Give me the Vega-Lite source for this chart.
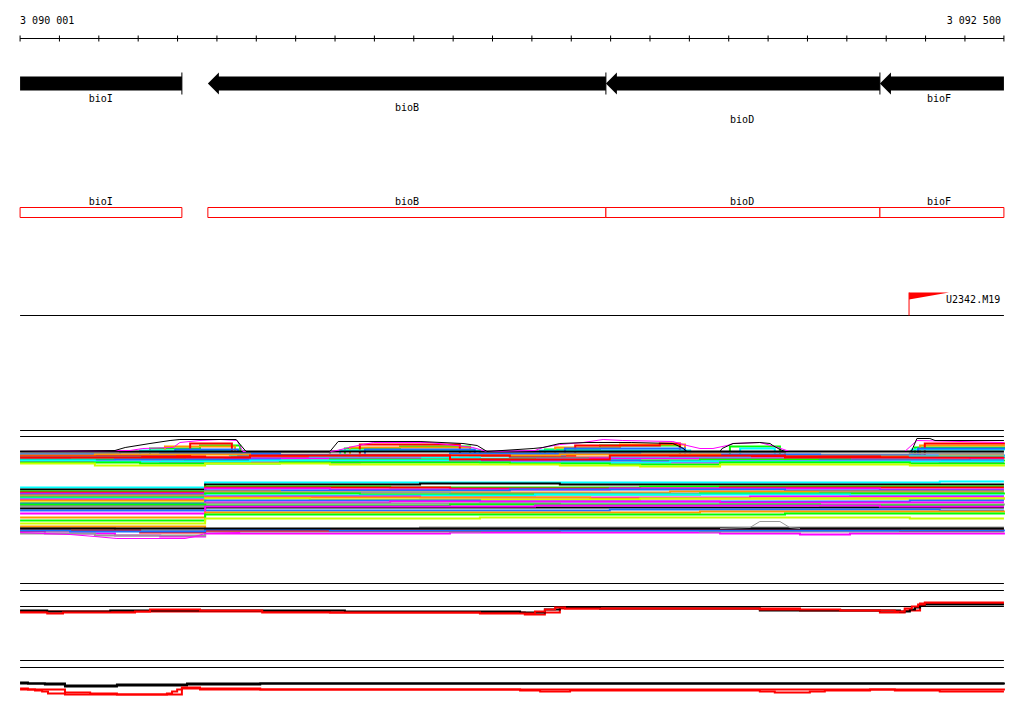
{
"$schema":"https://vega.github.io/schema/vega-lite/v6.json",
"width":1024,"height":714,"padding":0,
"autosize":{"type":"fit","contains":"padding"},
"background":"white",
"config":{"view":{"stroke":null},"text":{"font":"DejaVu Sans Mono","fontSize":10}},
"resolve":{"scale":{"color":"independent"}},
"datasets":{
"hl":[{"x":3090001,"x2":3092500,"y":38},{"x":3090001,"x2":3092500,"y":315},{"x":3090001,"x2":3092500,"y":430},{"x":3090001,"x2":3092500,"y":436},{"x":3090001,"x2":3092500,"y":583},{"x":3090001,"x2":3092500,"y":590},{"x":3090001,"x2":3092500,"y":606},{"x":3090001,"x2":3092500,"y":660},{"x":3090001,"x2":3092500,"y":667}],
"ticks":[{"x":3090001},{"x":3090101},{"x":3090201},{"x":3090301},{"x":3090401},{"x":3090501},{"x":3090601},{"x":3090701},{"x":3090801},{"x":3090901},{"x":3091001},{"x":3091101},{"x":3091201},{"x":3091301},{"x":3091401},{"x":3091501},{"x":3091601},{"x":3091701},{"x":3091801},{"x":3091901},{"x":3092001},{"x":3092101},{"x":3092201},{"x":3092301},{"x":3092401},{"x":3092500}],
"genes":[{"name":"bioI","x":3090001,"x2":3090412,"xb":3090001,"xm":3090206,"ly":101},{"name":"bioB","x":3090478,"x2":3091489,"xb":3090503,"xm":3090984,"ly":110},{"name":"bioD","x":3091489,"x2":3092185,"xb":3091514,"xm":3091835,"ly":122},{"name":"bioF","x":3092185,"x2":3092500,"xb":3092210,"xm":3092335,"ly":101}],
"markers":[{"name":"U2342.M19","x":3092259}],
"bands":[
{"s":"f1","x":3090001,"y":455},{"s":"f1","x":3090331,"y":448},{"s":"f1","x":3090458,"y":445},{"s":"f1","x":3090560,"y":455},{"s":"f1","x":3090826,"y":448},{"s":"f1","x":3090966,"y":446},{"s":"f1","x":3091144,"y":455},{"s":"f1","x":3091334,"y":449},{"s":"f1","x":3091474,"y":445},{"s":"f1","x":3091677,"y":455},{"s":"f1","x":3091804,"y":446},{"s":"f1","x":3091931,"y":455},{"s":"f1","x":3092274,"y":447},{"s":"f1","x":3092500,"y":448},
{"s":"f2","x":3090001,"y":455},{"s":"f2","x":3090369,"y":446},{"s":"f2","x":3090547,"y":455},{"s":"f2","x":3090839,"y":447},{"s":"f2","x":3091144,"y":455},{"s":"f2","x":3091360,"y":447},{"s":"f2","x":3091525,"y":444},{"s":"f2","x":3091690,"y":455},{"s":"f2","x":3092287,"y":445},{"s":"f2","x":3092500,"y":446},
{"s":"f3","x":3090001,"y":455},{"s":"f3","x":3090433,"y":443},{"s":"f3","x":3090539,"y":455},{"s":"f3","x":3090864,"y":444},{"s":"f3","x":3091118,"y":455},{"s":"f3","x":3091411,"y":445},{"s":"f3","x":3091626,"y":443},{"s":"f3","x":3091677,"y":455},{"s":"f3","x":3092299,"y":443},{"s":"f3","x":3092500,"y":444},
{"s":"f4","x":3090001,"y":455},{"s":"f4","x":3090306,"y":450},{"s":"f4","x":3090534,"y":455},{"s":"f4","x":3090814,"y":450},{"s":"f4","x":3091169,"y":455},{"s":"f4","x":3091322,"y":450},{"s":"f4","x":3091703,"y":455},{"s":"f4","x":3091830,"y":448},{"s":"f4","x":3091918,"y":455},{"s":"f4","x":3092266,"y":449},{"s":"f4","x":3092500,"y":450},
{"s":"f5","x":3090001,"y":455},{"s":"f5","x":3090395,"y":449},{"s":"f5","x":3090555,"y":455},{"s":"f5","x":3090877,"y":449},{"s":"f5","x":3091156,"y":455},{"s":"f5","x":3091385,"y":448},{"s":"f5","x":3091690,"y":455},{"s":"f5","x":3092282,"y":448},{"s":"f5","x":3092500,"y":449},
{"s":"s02","x":3090001,"y":453},{"s":"s02","x":3090255,"y":452},{"s":"s02","x":3090788,"y":454},{"s":"s02","x":3091169,"y":453},{"s":"s02","x":3091499,"y":452},{"s":"s02","x":3091944,"y":454},{"s":"s02","x":3092261,"y":453},{"s":"s02","x":3092500,"y":453},
{"s":"s03","x":3090001,"y":454},{"s":"s03","x":3090357,"y":453},{"s":"s03","x":3090661,"y":455},{"s":"s03","x":3091093,"y":453},{"s":"s03","x":3091576,"y":454},{"s":"s03","x":3092033,"y":455},{"s":"s03","x":3092500,"y":454},
{"s":"s04","x":3090001,"y":455},{"s":"s04","x":3090191,"y":454},{"s":"s04","x":3090585,"y":456},{"s":"s04","x":3090941,"y":455},{"s":"s04","x":3091372,"y":454},{"s":"s04","x":3091779,"y":456},{"s":"s04","x":3092337,"y":455},{"s":"s04","x":3092500,"y":455},
{"s":"s05","x":3090001,"y":456},{"s":"s05","x":3090471,"y":457},{"s":"s05","x":3090864,"y":455},{"s":"s05","x":3091245,"y":457},{"s":"s05","x":3091652,"y":456},{"s":"s05","x":3092185,"y":457},{"s":"s05","x":3092500,"y":456},
{"s":"s06","x":3090001,"y":457},{"s":"s06","x":3090306,"y":458},{"s":"s06","x":3090737,"y":457},{"s":"s06","x":3091169,"y":458},{"s":"s06","x":3091499,"y":457},{"s":"s06","x":3091855,"y":458},{"s":"s06","x":3092261,"y":456},{"s":"s06","x":3092500,"y":457},
{"s":"s07","x":3090001,"y":458},{"s":"s07","x":3090128,"y":459},{"s":"s07","x":3090522,"y":458},{"s":"s07","x":3091017,"y":459},{"s":"s07","x":3091449,"y":458},{"s":"s07","x":3091944,"y":459},{"s":"s07","x":3092414,"y":458},{"s":"s07","x":3092500,"y":458},
{"s":"s08","x":3090001,"y":459},{"s":"s08","x":3090420,"y":460},{"s":"s08","x":3090788,"y":459},{"s":"s08","x":3091309,"y":460},{"s":"s08","x":3091728,"y":459},{"s":"s08","x":3092109,"y":460},{"s":"s08","x":3092500,"y":459},
{"s":"s09","x":3090001,"y":460},{"s":"s09","x":3090242,"y":459},{"s":"s09","x":3090661,"y":461},{"s":"s09","x":3091093,"y":460},{"s":"s09","x":3091576,"y":461},{"s":"s09","x":3092033,"y":460},{"s":"s09","x":3092500,"y":460},
{"s":"s10","x":3090001,"y":461},{"s":"s10","x":3090357,"y":462},{"s":"s10","x":3090864,"y":461},{"s":"s10","x":3091372,"y":462},{"s":"s10","x":3091779,"y":461},{"s":"s10","x":3092337,"y":462},{"s":"s10","x":3092500,"y":462},
{"s":"s11","x":3090001,"y":460},{"s":"s11","x":3090191,"y":461},{"s":"s11","x":3090585,"y":460},{"s":"s11","x":3091169,"y":462},{"s":"s11","x":3091652,"y":461},{"s":"s11","x":3092500,"y":461},
{"s":"s12","x":3090001,"y":462},{"s":"s12","x":3090306,"y":463},{"s":"s12","x":3090661,"y":462},{"s":"s12","x":3091245,"y":463},{"s":"s12","x":3091499,"y":464},{"s":"s12","x":3091779,"y":462},{"s":"s12","x":3092261,"y":463},{"s":"s12","x":3092500,"y":464},
{"s":"s13","x":3090001,"y":463},{"s":"s13","x":3090191,"y":465},{"s":"s13","x":3090471,"y":463},{"s":"s13","x":3090788,"y":464},{"s":"s13","x":3091372,"y":465},{"s":"s13","x":3091576,"y":466},{"s":"s13","x":3091779,"y":464},{"s":"s13","x":3092261,"y":465},{"s":"s13","x":3092500,"y":466},
{"s":"s14","x":3090001,"y":457},{"s":"s14","x":3090585,"y":455},{"s":"s14","x":3091093,"y":459},{"s":"s14","x":3091499,"y":455},{"s":"s14","x":3091944,"y":457},{"s":"s14","x":3092500,"y":457},
{"s":"s01","x":3090001,"y":451},{"s":"s01","x":3092500,"y":451},
{"s":"t01","x":3090001,"y":487},{"s":"t01","x":3090471,"y":482},{"s":"t01","x":3092337,"y":481},{"s":"t01","x":3092500,"y":481},
{"s":"t02","x":3090001,"y":489},{"s":"t02","x":3090471,"y":484},{"s":"t02","x":3091017,"y":483},{"s":"t02","x":3091372,"y":484},{"s":"t02","x":3092500,"y":484},
{"s":"t03","x":3090001,"y":491},{"s":"t03","x":3090471,"y":486},{"s":"t03","x":3090941,"y":487},{"s":"t03","x":3091576,"y":486},{"s":"t03","x":3092500,"y":486},
{"s":"t04","x":3090001,"y":492},{"s":"t04","x":3090471,"y":487},{"s":"t04","x":3091093,"y":488},{"s":"t04","x":3091779,"y":487},{"s":"t04","x":3092500,"y":487},
{"s":"t05","x":3090001,"y":493},{"s":"t05","x":3090471,"y":488},{"s":"t05","x":3090788,"y":489},{"s":"t05","x":3091499,"y":488},{"s":"t05","x":3092185,"y":489},{"s":"t05","x":3092500,"y":489},
{"s":"t06","x":3090001,"y":494},{"s":"t06","x":3090471,"y":490},{"s":"t06","x":3091245,"y":489},{"s":"t06","x":3091944,"y":490},{"s":"t06","x":3092500,"y":490},
{"s":"t07","x":3090001,"y":495},{"s":"t07","x":3090471,"y":491},{"s":"t07","x":3090661,"y":492},{"s":"t07","x":3091652,"y":491},{"s":"t07","x":3092500,"y":491},
{"s":"t08","x":3090001,"y":496},{"s":"t08","x":3090471,"y":492},{"s":"t08","x":3091093,"y":493},{"s":"t08","x":3092033,"y":492},{"s":"t08","x":3092500,"y":492},
{"s":"t09","x":3090001,"y":497},{"s":"t09","x":3090471,"y":493},{"s":"t09","x":3090864,"y":494},{"s":"t09","x":3091728,"y":493},{"s":"t09","x":3092500,"y":494},
{"s":"t10","x":3090001,"y":498},{"s":"t10","x":3090471,"y":495},{"s":"t10","x":3091309,"y":494},{"s":"t10","x":3092109,"y":495},{"s":"t10","x":3092500,"y":495},
{"s":"t11","x":3090001,"y":499},{"s":"t11","x":3090471,"y":496},{"s":"t11","x":3091017,"y":497},{"s":"t11","x":3091855,"y":496},{"s":"t11","x":3092500,"y":496},
{"s":"t12","x":3090001,"y":500},{"s":"t12","x":3090471,"y":497},{"s":"t12","x":3091449,"y":498},{"s":"t12","x":3092500,"y":497},
{"s":"t13","x":3090001,"y":502},{"s":"t13","x":3090471,"y":498},{"s":"t13","x":3090737,"y":499},{"s":"t13","x":3091576,"y":498},{"s":"t13","x":3092500,"y":499},
{"s":"t14","x":3090001,"y":503},{"s":"t14","x":3090471,"y":500},{"s":"t14","x":3091169,"y":501},{"s":"t14","x":3092261,"y":500},{"s":"t14","x":3092500,"y":500},
{"s":"t15","x":3090001,"y":505},{"s":"t15","x":3090471,"y":502},{"s":"t15","x":3090941,"y":501},{"s":"t15","x":3091779,"y":502},{"s":"t15","x":3092500,"y":502},
{"s":"t16","x":3090001,"y":506},{"s":"t16","x":3090471,"y":503},{"s":"t16","x":3091372,"y":504},{"s":"t16","x":3092500,"y":503},
{"s":"t17","x":3090001,"y":504},{"s":"t17","x":3090471,"y":505},{"s":"t17","x":3091093,"y":504},{"s":"t17","x":3092033,"y":505},{"s":"t17","x":3092500,"y":505},
{"s":"t18","x":3090001,"y":508},{"s":"t18","x":3090471,"y":507},{"s":"t18","x":3092500,"y":507},
{"s":"t19","x":3090001,"y":510},{"s":"t19","x":3091499,"y":509},{"s":"t19","x":3092337,"y":510},{"s":"t19","x":3092500,"y":510},
{"s":"t20","x":3090001,"y":513},{"s":"t20","x":3090471,"y":506},{"s":"t20","x":3091309,"y":505},{"s":"t20","x":3092185,"y":506},{"s":"t20","x":3092500,"y":506},
{"s":"t21","x":3090001,"y":517},{"s":"t21","x":3090471,"y":512},{"s":"t21","x":3091728,"y":511},{"s":"t21","x":3092500,"y":512},
{"s":"t22","x":3090001,"y":520},{"s":"t22","x":3090471,"y":514},{"s":"t22","x":3091944,"y":513},{"s":"t22","x":3092500,"y":514},
{"s":"t23","x":3090001,"y":523},{"s":"t23","x":3090471,"y":518},{"s":"t23","x":3091169,"y":517},{"s":"t23","x":3092261,"y":518},{"s":"t23","x":3092500,"y":518},
{"s":"u02","x":3090001,"y":527},{"s":"u02","x":3090242,"y":530},{"s":"u02","x":3090471,"y":529},{"s":"u02","x":3091017,"y":527},{"s":"u02","x":3092500,"y":527},
{"s":"u03","x":3090001,"y":531},{"s":"u03","x":3090064,"y":533},{"s":"u03","x":3090242,"y":535},{"s":"u03","x":3090357,"y":536},{"s":"u03","x":3090471,"y":533},{"s":"u03","x":3091093,"y":532},{"s":"u03","x":3091779,"y":533},{"s":"u03","x":3091982,"y":534},{"s":"u03","x":3092109,"y":533},{"s":"u03","x":3092500,"y":532},
{"s":"u05","x":3090001,"y":526},{"s":"u05","x":3090471,"y":529},{"s":"u05","x":3092500,"y":529},
{"s":"u06","x":3090001,"y":533},{"s":"u06","x":3090191,"y":535},{"s":"u06","x":3090471,"y":531},{"s":"u06","x":3091169,"y":530},{"s":"u06","x":3091728,"y":531},{"s":"u06","x":3092500,"y":531},
{"s":"u07","x":3090001,"y":530},{"s":"u07","x":3090306,"y":532},{"s":"u07","x":3090471,"y":530},{"s":"u07","x":3091372,"y":529},{"s":"u07","x":3092236,"y":530},{"s":"u07","x":3092500,"y":530},
{"s":"u08","x":3090001,"y":530},{"s":"u08","x":3090128,"y":531},{"s":"u08","x":3090471,"y":529},{"s":"u08","x":3090788,"y":530},{"s":"u08","x":3092500,"y":529},
{"s":"u01","x":3090001,"y":528},{"s":"u01","x":3092500,"y":528}
],
"envs":[
{"s":"e2","x":3090001,"y":451},{"s":"e2","x":3090280,"y":450},{"s":"e2","x":3090313,"y":448},{"s":"e2","x":3090390,"y":447},{"s":"e2","x":3090407,"y":442},{"s":"e2","x":3090458,"y":440},{"s":"e2","x":3090509,"y":439},{"s":"e2","x":3090552,"y":440},{"s":"e2","x":3090567,"y":451},{"s":"e2","x":3090788,"y":451},{"s":"e2","x":3090806,"y":450},{"s":"e2","x":3090847,"y":446},{"s":"e2","x":3090898,"y":442},{"s":"e2","x":3091042,"y":442},{"s":"e2","x":3091151,"y":447},{"s":"e2","x":3091187,"y":451},{"s":"e2","x":3091309,"y":450},{"s":"e2","x":3091329,"y":447},{"s":"e2","x":3091372,"y":444},{"s":"e2","x":3091431,"y":442},{"s":"e2","x":3091482,"y":439},{"s":"e2","x":3091532,"y":440},{"s":"e2","x":3091659,"y":441},{"s":"e2","x":3091695,"y":445},{"s":"e2","x":3091728,"y":448},{"s":"e2","x":3091761,"y":448},{"s":"e2","x":3091797,"y":445},{"s":"e2","x":3091812,"y":443},{"s":"e2","x":3091880,"y":442},{"s":"e2","x":3091918,"y":446},{"s":"e2","x":3091956,"y":451},{"s":"e2","x":3092248,"y":451},{"s":"e2","x":3092279,"y":440},{"s":"e2","x":3092500,"y":442},
{"s":"e1","x":3090001,"y":451},{"s":"e1","x":3090242,"y":450},{"s":"e1","x":3090268,"y":447},{"s":"e1","x":3090331,"y":443},{"s":"e1","x":3090382,"y":440},{"s":"e1","x":3090407,"y":439},{"s":"e1","x":3090550,"y":439},{"s":"e1","x":3090560,"y":444},{"s":"e1","x":3090575,"y":451},{"s":"e1","x":3090788,"y":451},{"s":"e1","x":3090809,"y":441},{"s":"e1","x":3091017,"y":441},{"s":"e1","x":3091126,"y":443},{"s":"e1","x":3091162,"y":445},{"s":"e1","x":3091187,"y":451},{"s":"e1","x":3091304,"y":448},{"s":"e1","x":3091329,"y":447},{"s":"e1","x":3091372,"y":443},{"s":"e1","x":3091441,"y":442},{"s":"e1","x":3091555,"y":442},{"s":"e1","x":3091659,"y":443},{"s":"e1","x":3091682,"y":447},{"s":"e1","x":3091695,"y":451},{"s":"e1","x":3091779,"y":451},{"s":"e1","x":3091784,"y":448},{"s":"e1","x":3091812,"y":443},{"s":"e1","x":3091880,"y":442},{"s":"e1","x":3091906,"y":443},{"s":"e1","x":3091913,"y":445},{"s":"e1","x":3091931,"y":449},{"s":"e1","x":3091944,"y":451},{"s":"e1","x":3092261,"y":451},{"s":"e1","x":3092266,"y":450},{"s":"e1","x":3092279,"y":438},{"s":"e1","x":3092312,"y":438},{"s":"e1","x":3092325,"y":440},{"s":"e1","x":3092500,"y":440},
{"s":"e3","x":3091779,"y":528},{"s":"e3","x":3091855,"y":527},{"s":"e3","x":3091880,"y":521},{"s":"e3","x":3091931,"y":521},{"s":"e3","x":3091956,"y":527},{"s":"e3","x":3091982,"y":528},
{"s":"e4","x":3090001,"y":532},{"s":"e4","x":3090064,"y":533},{"s":"e4","x":3090128,"y":534},{"s":"e4","x":3090191,"y":536},{"s":"e4","x":3090247,"y":538},{"s":"e4","x":3090420,"y":538},{"s":"e4","x":3090445,"y":536},{"s":"e4","x":3090471,"y":533},{"s":"e4","x":3090560,"y":532}
],
"lows":[
{"s":"r2","x":3090001,"y":611},{"s":"r2","x":3090616,"y":611},{"s":"r2","x":3090788,"y":612},{"s":"r2","x":3091169,"y":612},{"s":"r2","x":3091283,"y":614},{"s":"r2","x":3091334,"y":612},{"s":"r2","x":3091372,"y":608},{"s":"r2","x":3091880,"y":608},{"s":"r2","x":3091982,"y":610},{"s":"r2","x":3092185,"y":612},{"s":"r2","x":3092248,"y":610},{"s":"r2","x":3092287,"y":603},{"s":"r2","x":3092500,"y":603},
{"s":"k1","x":3090001,"y":610},{"s":"k1","x":3090070,"y":611},{"s":"k1","x":3090230,"y":610},{"s":"k1","x":3090826,"y":611},{"s":"k1","x":3091271,"y":612},{"s":"k1","x":3091334,"y":609},{"s":"k1","x":3091372,"y":607},{"s":"k1","x":3091474,"y":608},{"s":"k1","x":3091880,"y":610},{"s":"k1","x":3092236,"y":611},{"s":"k1","x":3092261,"y":609},{"s":"k1","x":3092274,"y":607},{"s":"k1","x":3092287,"y":605},{"s":"k1","x":3092299,"y":604},{"s":"k1","x":3092500,"y":604},
{"s":"r1","x":3090001,"y":612},{"s":"r1","x":3090070,"y":613},{"s":"r1","x":3090110,"y":612},{"s":"r1","x":3090293,"y":611},{"s":"r1","x":3090331,"y":609},{"s":"r1","x":3090458,"y":610},{"s":"r1","x":3090616,"y":612},{"s":"r1","x":3091169,"y":613},{"s":"r1","x":3091309,"y":611},{"s":"r1","x":3091334,"y":609},{"s":"r1","x":3091360,"y":607},{"s":"r1","x":3091385,"y":608},{"s":"r1","x":3091880,"y":609},{"s":"r1","x":3092084,"y":610},{"s":"r1","x":3092223,"y":611},{"s":"r1","x":3092248,"y":608},{"s":"r1","x":3092266,"y":606},{"s":"r1","x":3092282,"y":604},{"s":"r1","x":3092299,"y":602},{"s":"r1","x":3092500,"y":602},
{"s":"k3","x":3090001,"y":682},{"s":"k3","x":3090021,"y":683},{"s":"k3","x":3090064,"y":684},{"s":"k3","x":3090115,"y":686},{"s":"k3","x":3090247,"y":684},{"s":"k3","x":3090425,"y":683},{"s":"k3","x":3092500,"y":683},
{"s":"k4","x":3090001,"y":683},{"s":"k4","x":3090115,"y":685},{"s":"k4","x":3090247,"y":685},{"s":"k4","x":3090425,"y":684},{"s":"k4","x":3090611,"y":683},{"s":"k4","x":3092500,"y":684},
{"s":"r4","x":3090001,"y":689},{"s":"r4","x":3090115,"y":692},{"s":"r4","x":3090179,"y":693},{"s":"r4","x":3090247,"y":694},{"s":"r4","x":3090374,"y":694},{"s":"r4","x":3090412,"y":688},{"s":"r4","x":3090458,"y":689},{"s":"r4","x":3092500,"y":690},
{"s":"r3","x":3090001,"y":688},{"s":"r3","x":3090021,"y":689},{"s":"r3","x":3090039,"y":690},{"s":"r3","x":3090057,"y":691},{"s":"r3","x":3090072,"y":693},{"s":"r3","x":3090115,"y":694},{"s":"r3","x":3090288,"y":694},{"s":"r3","x":3090374,"y":693},{"s":"r3","x":3090387,"y":691},{"s":"r3","x":3090400,"y":689},{"s":"r3","x":3090412,"y":687},{"s":"r3","x":3090458,"y":688},{"s":"r3","x":3090611,"y":689},{"s":"r3","x":3091245,"y":689},{"s":"r3","x":3091271,"y":690},{"s":"r3","x":3091322,"y":691},{"s":"r3","x":3091398,"y":690},{"s":"r3","x":3091880,"y":691},{"s":"r3","x":3091918,"y":692},{"s":"r3","x":3092007,"y":691},{"s":"r3","x":3092045,"y":690},{"s":"r3","x":3092160,"y":689},{"s":"r3","x":3092223,"y":690},{"s":"r3","x":3092337,"y":691},{"s":"r3","x":3092500,"y":691}
]
},
"layer":[
{"data":{"name":"hl"},"mark":{"type":"rule","color":"#000000","strokeWidth":1},
 "encoding":{"x":{"field":"x","type":"quantitative","scale":{"domain":[3089950,3092551],"zero":false,"nice":false},"axis":null},"x2":{"field":"x2"},
 "y":{"field":"y","type":"quantitative","scale":{"domain":[-0.5,713.5],"reverse":true,"zero":false,"nice":false},"axis":null}}},
{"data":{"name":"ticks"},"mark":{"type":"rule","color":"#000000","strokeWidth":1},
 "encoding":{"x":{"field":"x","type":"quantitative","scale":{"domain":[3089950,3092551],"zero":false,"nice":false},"axis":null},
 "y":{"datum":35,"type":"quantitative","scale":{"domain":[-0.5,713.5],"reverse":true,"zero":false,"nice":false},"axis":null},"y2":{"datum":41}}},
{"data":{"values":[{"t":"3 090 001","x":3090001}]},"mark":{"type":"text","align":"left","baseline":"alphabetic","color":"#000000"},
 "encoding":{"x":{"field":"x","type":"quantitative","scale":{"domain":[3089950,3092551],"zero":false,"nice":false},"axis":null},
 "y":{"datum":23,"type":"quantitative","scale":{"domain":[-0.5,713.5],"reverse":true,"zero":false,"nice":false},"axis":null},"text":{"field":"t"}}},
{"data":{"values":[{"t":"3 092 500","x":3092500}]},"mark":{"type":"text","align":"right","baseline":"alphabetic","dx":-3,"color":"#000000"},
 "encoding":{"x":{"field":"x","type":"quantitative","scale":{"domain":[3089950,3092551],"zero":false,"nice":false},"axis":null},
 "y":{"datum":23,"type":"quantitative","scale":{"domain":[-0.5,713.5],"reverse":true,"zero":false,"nice":false},"axis":null},"text":{"field":"t"}}},
{"data":{"name":"genes"},"mark":{"type":"rect","color":"#000000"},
 "encoding":{"x":{"field":"xb","type":"quantitative","scale":{"domain":[3089950,3092551],"zero":false,"nice":false},"axis":null},"x2":{"field":"x2"},
 "y":{"datum":76,"type":"quantitative","scale":{"domain":[-0.5,713.5],"reverse":true,"zero":false,"nice":false},"axis":null},"y2":{"datum":90}}},
{"data":{"name":"genes"},"transform":[{"filter":"datum.name !== 'bioI'"}],
 "mark":{"type":"point","shape":"M 0 0 L 1 -1 L 1 1 Z","size":484,"filled":true,"color":"#000000","opacity":1,"strokeWidth":0},
 "encoding":{"x":{"field":"x","type":"quantitative","scale":{"domain":[3089950,3092551],"zero":false,"nice":false},"axis":null},
 "y":{"datum":83,"type":"quantitative","scale":{"domain":[-0.5,713.5],"reverse":true,"zero":false,"nice":false},"axis":null}}},
{"data":{"name":"genes"},"transform":[{"filter":"datum.name !== 'bioF'"}],"mark":{"type":"rule","color":"#000000","strokeWidth":1},
 "encoding":{"x":{"field":"x2","type":"quantitative","scale":{"domain":[3089950,3092551],"zero":false,"nice":false},"axis":null},
 "y":{"datum":72,"type":"quantitative","scale":{"domain":[-0.5,713.5],"reverse":true,"zero":false,"nice":false},"axis":null},"y2":{"datum":94}}},
{"data":{"name":"genes"},"mark":{"type":"text","align":"center","baseline":"alphabetic","color":"#000000"},
 "encoding":{"x":{"field":"xm","type":"quantitative","scale":{"domain":[3089950,3092551],"zero":false,"nice":false},"axis":null},
 "y":{"field":"ly","type":"quantitative","scale":{"domain":[-0.5,713.5],"reverse":true,"zero":false,"nice":false},"axis":null},"text":{"field":"name"}}},
{"data":{"name":"genes"},"mark":{"type":"rect","fill":"#ffffff","stroke":"#ff0000","strokeWidth":1},
 "encoding":{"x":{"field":"x","type":"quantitative","scale":{"domain":[3089950,3092551],"zero":false,"nice":false},"axis":null},"x2":{"field":"x2"},
 "y":{"datum":207,"type":"quantitative","scale":{"domain":[-0.5,713.5],"reverse":true,"zero":false,"nice":false},"axis":null},"y2":{"datum":217}}},
{"data":{"name":"genes"},"mark":{"type":"text","align":"center","baseline":"alphabetic","color":"#000000"},
 "encoding":{"x":{"field":"xm","type":"quantitative","scale":{"domain":[3089950,3092551],"zero":false,"nice":false},"axis":null},
 "y":{"datum":204,"type":"quantitative","scale":{"domain":[-0.5,713.5],"reverse":true,"zero":false,"nice":false},"axis":null},"text":{"field":"name"}}},
{"data":{"name":"markers"},"mark":{"type":"rule","color":"#ff0000","strokeWidth":1},
 "encoding":{"x":{"field":"x","type":"quantitative","scale":{"domain":[3089950,3092551],"zero":false,"nice":false},"axis":null},
 "y":{"datum":292,"type":"quantitative","scale":{"domain":[-0.5,713.5],"reverse":true,"zero":false,"nice":false},"axis":null},"y2":{"datum":315}}},
{"data":{"name":"markers"},"mark":{"type":"point","shape":"M 0 0 L 2 0 L 0 0.35 Z","size":1600,"filled":true,"color":"#ff0000","opacity":1,"strokeWidth":0},
 "encoding":{"x":{"field":"x","type":"quantitative","scale":{"domain":[3089950,3092551],"zero":false,"nice":false},"axis":null},
 "y":{"datum":292,"type":"quantitative","scale":{"domain":[-0.5,713.5],"reverse":true,"zero":false,"nice":false},"axis":null}}},
{"data":{"name":"markers"},"mark":{"type":"text","align":"left","baseline":"alphabetic","dx":37,"color":"#000000"},
 "encoding":{"x":{"field":"x","type":"quantitative","scale":{"domain":[3089950,3092551],"zero":false,"nice":false},"axis":null},
 "y":{"datum":302,"type":"quantitative","scale":{"domain":[-0.5,713.5],"reverse":true,"zero":false,"nice":false},"axis":null},"text":{"field":"name"}}},
{"data":{"name":"bands"},"mark":{"type":"line","interpolate":"step-after","strokeWidth":2},
 "encoding":{"x":{"field":"x","type":"quantitative","scale":{"domain":[3089950,3092551],"zero":false,"nice":false},"axis":null},
 "y":{"field":"y","type":"quantitative","scale":{"domain":[-0.5,713.5],"reverse":true,"zero":false,"nice":false},"axis":null},
 "color":{"field":"s","type":"nominal","legend":null,"scale":{
  "domain":["f1","f2","f3","f4","f5","s02","s03","s04","s05","s06","s07","s08","s09","s10","s11","s12","s13","s14","s01","t01","t02","t03","t04","t05","t06","t07","t08","t09","t10","t11","t12","t13","t14","t15","t16","t17","t18","t19","t20","t21","t22","t23","u02","u03","u05","u06","u07","u08","u01"],
  "range":["#00ff00","#ff9900","#ff0000","#00ffff","#1f6fff","#999999","#1f6fff","#ff9900","#ff0000","#00ffff","#ff00ff","#00ff00","#1f6fff","#ff00ff","#00ffff","#00ff00","#ccff00","#ff0000","#000000","#00ffff","#000000","#00ff00","#ff0000","#ff00ff","#1f6fff","#ff9900","#999999","#00ff00","#00ffff","#ff00ff","#ff9900","#ccff00","#1f6fff","#ff00ff","#999999","#00ff00","#000000","#1f6fff","#ff00ff","#ff9900","#00ff00","#ccff00","#999999","#ff00ff","#ff9900","#999999","#ff0000","#1f6fff","#000000"]}}}},
{"data":{"name":"envs"},"mark":{"type":"line","interpolate":"linear","strokeWidth":1},
 "encoding":{"x":{"field":"x","type":"quantitative","scale":{"domain":[3089950,3092551],"zero":false,"nice":false},"axis":null},
 "y":{"field":"y","type":"quantitative","scale":{"domain":[-0.5,713.5],"reverse":true,"zero":false,"nice":false},"axis":null},
 "color":{"field":"s","type":"nominal","legend":null,"scale":{"domain":["e2","e1","e3","e4"],"range":["#ff00ff","#000000","#999999","#ff00ff"]}}}},
{"data":{"name":"lows"},"mark":{"type":"line","interpolate":"step-after","strokeWidth":2},
 "encoding":{"x":{"field":"x","type":"quantitative","scale":{"domain":[3089950,3092551],"zero":false,"nice":false},"axis":null},
 "y":{"field":"y","type":"quantitative","scale":{"domain":[-0.5,713.5],"reverse":true,"zero":false,"nice":false},"axis":null},
 "color":{"field":"s","type":"nominal","legend":null,"scale":{"domain":["r2","k1","r1","k3","k4","r4","r3"],"range":["#ff0000","#000000","#ff0000","#000000","#000000","#ff0000","#ff0000"]}}}}
]
}
